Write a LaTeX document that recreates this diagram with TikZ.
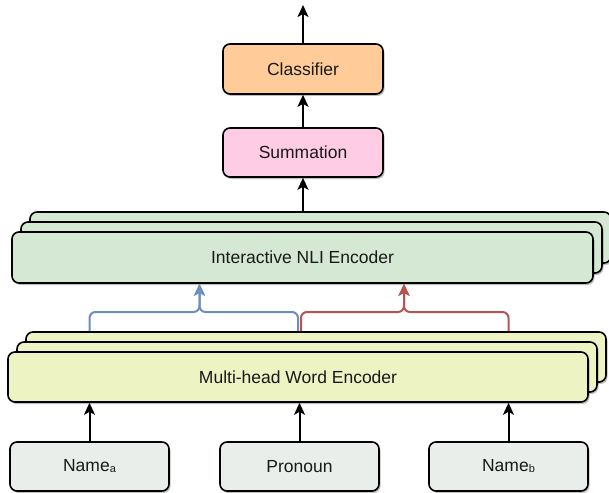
\documentclass[tikz,border=0pt]{standalone}
\usepackage{fontspec}
\setmainfont{Liberation Sans}
\usetikzlibrary{positioning}
\usetikzlibrary{arrows.meta, shadows}

\definecolor{clsfill}{HTML}{FFCC99}
\definecolor{sumfill}{HTML}{FFCCE6}
\definecolor{nlifill}{HTML}{D5E8D4}
\definecolor{wordfill}{HTML}{EEF3C4}
\definecolor{tokfill}{HTML}{E9EEEB}
\definecolor{bluebr}{HTML}{6C8EBF}
\definecolor{redbr}{HTML}{B85450}

\newcommand{\subidx}[1]{\raisebox{-1pt}{\fontsize{11}{11}\selectfont #1}}

\tikzset{
	block/.style = {
		draw=black, line width=1.6pt, rounded corners=7pt, inner sep=0pt,
		font=\fontsize{17.5}{21}\selectfont, text=black!90,
		drop shadow={shadow xshift=1.5pt, shadow yshift=-2pt, opacity=0.25, fill=black}
	},
	topbox/.style = {block, minimum width=160pt, minimum height=50pt},
	layer/.style = {block, minimum width=581pt, minimum height=51pt},
	token/.style = {block, fill=tokfill, minimum width=159pt, minimum height=49pt},
	arr/.style = {-{Stealth[length=12pt, width=11pt, inset=3pt]}, line width=2pt},
	brace/.style = {arr, rounded corners=6pt}
}

\begin{document}
\begin{tikzpicture}[x=1pt, y=-1pt]
		\useasboundingbox (0,0) rectangle (609,492);
		
		% head
		\node at (303,69) (cls) [topbox, fill=clsfill] {Classifier};
		\node at (303,152.5) (sum) [topbox, fill=sumfill, minimum height=49pt] {Summation};
		\coordinate (out) at (303,5);
		
		% stacked encoders, back to front
		\node at (320.5,237.5) (nli3) [layer, fill=nlifill] {};
		\node at (311.5,247.5) (nli2) [layer, fill=nlifill] {};
		\node at (302.5,257.5) (nli1) [layer, fill=nlifill] {Interactive NLI Encoder};
		
		\node at (316,357) (word3) [layer, fill=wordfill, minimum width=580pt, minimum height=50pt] {};
		\node at (307,367) (word2) [layer, fill=wordfill, minimum width=580pt, minimum height=50pt] {};
		\node at (298,377) (word1) [layer, fill=wordfill, minimum width=580pt, minimum height=50pt] {Multi-head Word Encoder};
		
		% inputs
		\node at (89.5,466.5) (namea) [token] {Name\subidx{a}};
		\node at (299.5,466.5) (pron) [token] {Pronoun};
		\node at (508.5,466.5) (nameb) [token] {Name\subidx{b}};
		
		\coordinate (bjoin) at (199.5,312);
		\coordinate (rjoin) at (404,312);
		
		\path [arr]
		(namea) edge (namea |- word1.south)
		(pron) edge (pron |- word1.south)
		(nameb) edge (nameb |- word1.south)
		(sum.south |- nli3.north) edge (sum.south)
		(sum) edge (cls.south)
		(cls) edge (out);
		
		% pairwise merge into the NLI encoder
		\draw [brace, bluebr] (namea |- word3.north) |- (bjoin) -- (bjoin |- nli1.south);
		\draw [brace, bluebr] ([xshift=-1.5pt]pron.north |- word3.north) |- (bjoin) -- (bjoin |- nli1.south);
		\draw [brace, redbr] ([xshift=1.5pt]pron.north |- word3.north) |- (rjoin) -- (rjoin |- nli1.south);
		\draw [brace, redbr] (nameb |- word3.north) |- (rjoin) -- (rjoin |- nli1.south);
	\end{tikzpicture}
\end{document}
